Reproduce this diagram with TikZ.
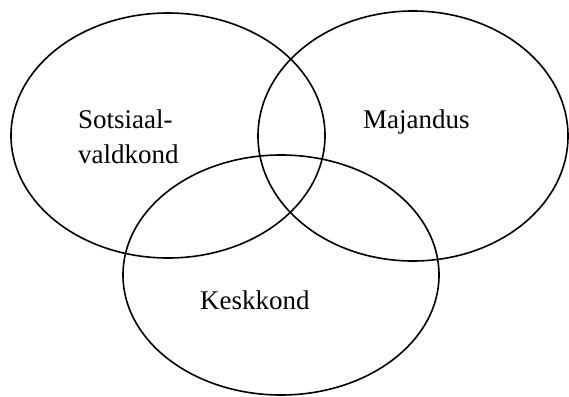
\documentclass[tikz,border=0pt]{standalone}
\usepackage{fontspec}
\setmainfont{Liberation Serif}
\begin{document}
\begin{tikzpicture}[x=1pt,y=-1pt,
  ring/.style={draw=black,line width=1.6pt},
  lbl/.style={anchor=base west,inner sep=0pt,font=\fontsize{27}{31}\selectfont}]
\useasboundingbox (0,0) rectangle (569,396);
\draw[ring] (168,135.5) ellipse [x radius=157, y radius=122.5];
\draw[ring] (413,136) ellipse [x radius=155, y radius=125];
\draw[ring] (281,275) ellipse [x radius=158, y radius=120];
\node[lbl] (s1) at (78,128) {Sotsiaal-};
\node[lbl] (s2) at (78,163) {valdkond};
\node[lbl] (m) at (363,128) {Majandus};
\node[lbl] (k) at (200,309) {Keskkond};
\end{tikzpicture}
\end{document}
